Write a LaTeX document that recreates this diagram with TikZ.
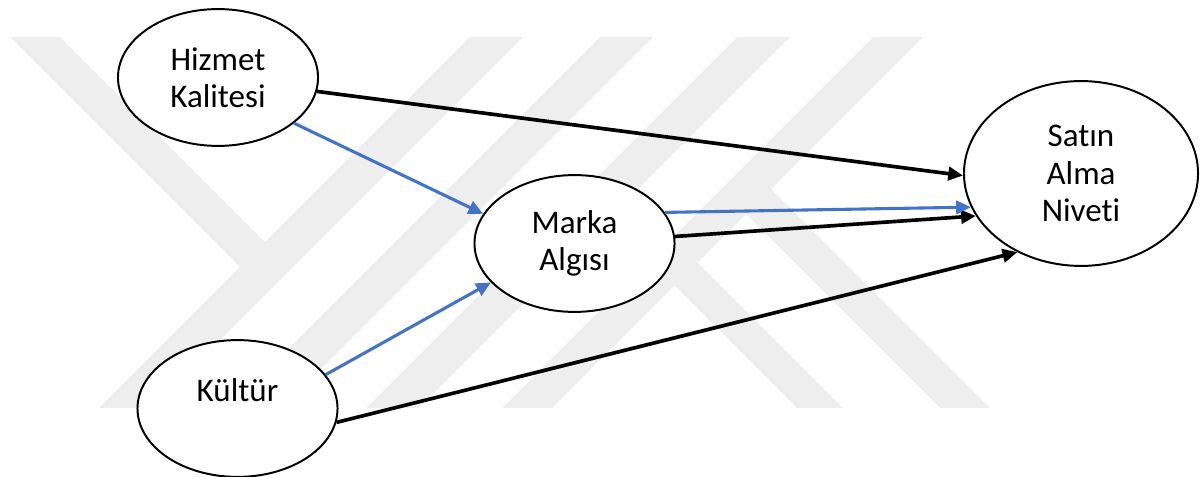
\documentclass[tikz,border=0pt]{standalone}
\usepackage{fontspec}
\setmainfont{Carlito}[Ligatures=NoCommon]
\usetikzlibrary{shapes,arrows.meta,positioning}
\definecolor{officeblue}{HTML}{4472C4}
\definecolor{logogray}{HTML}{EEEEEE}

\begin{document}
\begin{tikzpicture}[x=0.025cm,y=-0.025cm]
	\tikzstyle{construct} = [draw,ellipse,fill=white,line width=1.4pt,inner sep=0pt,align=center,minimum width=5cm,minimum height=3.42cm,font=\fontsize{23.5}{26.5}\selectfont]
	\tikzstyle{direct} = [-{Triangle[length=10.5pt,width=9.5pt]},line width=2.6pt,black]
	\tikzstyle{mediated} = [-{Triangle[length=10.5pt,width=9.5pt]},line width=2.2pt,officeblue]
	\tikzstyle{band} = [fill=logogray]
	\useasboundingbox (0,0) rectangle (1200,477);
	% Logo in the back
	\fill[band] (10,37) -- (60,37) -- (290,267) -- (240,267) -- cycle;
	\fill[band] (470,37) -- (523,37) -- (152,408) -- (99,408) -- cycle;
	\fill[band] (600,37) -- (653,37) -- (282,408) -- (229,408) -- cycle;
	\fill[band] (737,37) -- (790,37) -- (419,408) -- (366,408) -- cycle;
	\fill[band] (873,37) -- (923,37) -- (552,408) -- (502,408) -- cycle;
	\fill[band] (578,189) -- (624,189) -- (843,408) -- (797,408) -- cycle;
	\fill[band] (721,189) -- (771,189) -- (990,408) -- (940,408) -- cycle;
	% Constructs
	\node[construct] at (218,77.5)(hizmet) {Hizmet\\Kalitesi};
	\node[construct] at (574.5,243.5)(marka) {Marka\\Algısı};
	\node[construct] at (237.5,408.5)(kultur) {Kültür\\ \mbox{}};
	\node[construct,minimum width=5.85cm,minimum height=4.62cm] at (1081,173.5)(satin) {Satın\\Alma\\Niveti};
	% Direct effects
	\draw[direct] (hizmet.-8)  -- (satin.181);
	\draw[direct] (kultur.-8)  -- (satin.-129.7);
	\draw[direct] (marka.4.2)  -- (satin.202.5);
	% Through Marka Algısı
	\draw[mediated] (hizmet.-31)  -- (marka.162.7);
	\draw[mediated] (kultur.21.4)  -- (marka.-155.2);
	\draw[mediated] (marka.19.8)  -- (satin.197.1);
\end{tikzpicture}
\end{document}
